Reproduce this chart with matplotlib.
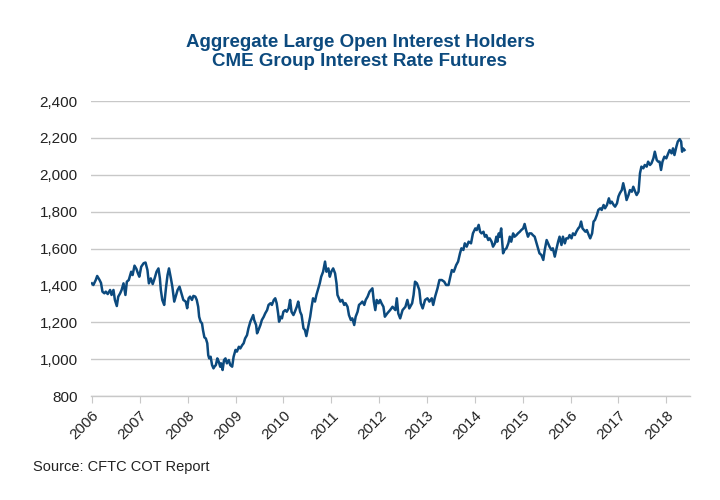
import matplotlib
matplotlib.use("Agg")
import matplotlib.pyplot as plt
from matplotlib.ticker import FuncFormatter

# ---- data (decimal year, contracts in thousands) ----
years = [
    2006.00, 2006.03, 2006.08, 2006.11, 2006.16, 2006.19, 2006.22, 2006.26, 2006.29, 2006.33,
    2006.38, 2006.41, 2006.45, 2006.48, 2006.52, 2006.55, 2006.59, 2006.62, 2006.66, 2006.70,
    2006.73, 2006.77, 2006.82, 2006.85, 2006.89, 2006.93, 2006.96, 2006.99, 2007.03, 2007.08,
    2007.12, 2007.16, 2007.19, 2007.23, 2007.27, 2007.31, 2007.35, 2007.39, 2007.42, 2007.44,
    2007.47, 2007.51, 2007.55, 2007.58, 2007.61, 2007.65, 2007.68, 2007.72, 2007.75, 2007.79,
    2007.83, 2007.87, 2007.91, 2007.96, 2007.99, 2008.02, 2008.05, 2008.09, 2008.12, 2008.16,
    2008.19, 2008.22, 2008.24, 2008.27, 2008.30, 2008.32, 2008.35, 2008.38, 2008.41, 2008.43,
    2008.45, 2008.48, 2008.51, 2008.54, 2008.56, 2008.59, 2008.62, 2008.65, 2008.68, 2008.70,
    2008.73, 2008.76, 2008.79, 2008.82, 2008.86, 2008.89, 2008.93, 2008.96, 2009.00, 2009.03,
    2009.07, 2009.10, 2009.14, 2009.17, 2009.20, 2009.24, 2009.27, 2009.31, 2009.34, 2009.37,
    2009.39, 2009.43, 2009.45, 2009.48, 2009.52, 2009.55, 2009.59, 2009.62, 2009.66, 2009.69,
    2009.73, 2009.76, 2009.80, 2009.83, 2009.86, 2009.89, 2009.91, 2009.94, 2009.97, 2010.00,
    2010.04, 2010.07, 2010.11, 2010.14, 2010.17, 2010.21, 2010.24, 2010.28, 2010.31, 2010.35,
    2010.38, 2010.42, 2010.45, 2010.48, 2010.52, 2010.56, 2010.59, 2010.62, 2010.66, 2010.69,
    2010.72, 2010.76, 2010.79, 2010.83, 2010.87, 2010.90, 2010.94, 2010.97, 2011.00, 2011.04,
    2011.08, 2011.11, 2011.13, 2011.16, 2011.19, 2011.23, 2011.27, 2011.30, 2011.34, 2011.37,
    2011.41, 2011.44, 2011.48, 2011.51, 2011.55, 2011.58, 2011.62, 2011.65, 2011.69, 2011.72,
    2011.76, 2011.80, 2011.83, 2011.86, 2011.89, 2011.92, 2011.95, 2011.99, 2012.02, 2012.05,
    2012.09, 2012.12, 2012.17, 2012.23, 2012.28, 2012.34, 2012.37, 2012.40, 2012.44, 2012.49,
    2012.55, 2012.59, 2012.63, 2012.69, 2012.72, 2012.75, 2012.79, 2012.84, 2012.87, 2012.91,
    2012.96, 2013.01, 2013.05, 2013.10, 2013.13, 2013.17, 2013.22, 2013.26, 2013.31, 2013.36,
    2013.40, 2013.45, 2013.48, 2013.52, 2013.56, 2013.61, 2013.65, 2013.69, 2013.72, 2013.76,
    2013.79, 2013.83, 2013.87, 2013.92, 2013.96, 2014.01, 2014.04, 2014.08, 2014.11, 2014.14,
    2014.18, 2014.21, 2014.24, 2014.28, 2014.31, 2014.35, 2014.38, 2014.42, 2014.45, 2014.47,
    2014.50, 2014.52, 2014.55, 2014.59, 2014.62, 2014.66, 2014.70, 2014.73, 2014.76, 2014.80,
    2014.83, 2014.87, 2014.90, 2014.94, 2014.97, 2015.01, 2015.04, 2015.07, 2015.11, 2015.14,
    2015.18, 2015.21, 2015.25, 2015.28, 2015.32, 2015.35, 2015.39, 2015.43, 2015.46, 2015.50,
    2015.53, 2015.56, 2015.60, 2015.63, 2015.67, 2015.70, 2015.74, 2015.77, 2015.81, 2015.84,
    2015.88, 2015.91, 2015.95, 2015.98, 2016.02, 2016.05, 2016.09, 2016.12, 2016.16, 2016.19,
    2016.22, 2016.25, 2016.28, 2016.31, 2016.34, 2016.38, 2016.41, 2016.45, 2016.48, 2016.51,
    2016.55, 2016.58, 2016.62, 2016.65, 2016.69, 2016.72, 2016.76, 2016.80, 2016.83, 2016.86,
    2016.90, 2016.93, 2016.97, 2017.00, 2017.03, 2017.07, 2017.10, 2017.14, 2017.17, 2017.21,
    2017.24, 2017.28, 2017.31, 2017.35, 2017.38, 2017.42, 2017.45, 2017.48, 2017.52, 2017.55,
    2017.59, 2017.62, 2017.66, 2017.69, 2017.73, 2017.76, 2017.80, 2017.83, 2017.86, 2017.89,
    2017.92, 2017.96, 2018.00, 2018.04, 2018.07, 2018.11, 2018.14, 2018.17, 2018.21, 2018.24,
    2018.28, 2018.31, 2018.33, 2018.35, 2018.38,
]
open_interest = [
    1411, 1402, 1429, 1451, 1429, 1413, 1366, 1357, 1366, 1353,
    1375, 1348, 1375, 1321, 1288, 1339, 1357, 1375, 1411, 1348,
    1420, 1429, 1474, 1456, 1507, 1489, 1466, 1447, 1501, 1520,
    1524, 1483, 1411, 1438, 1407, 1438, 1474, 1492, 1438, 1375,
    1321, 1294, 1393, 1456, 1492, 1438, 1393, 1312, 1339, 1375,
    1393, 1357, 1321, 1312, 1276, 1330, 1339, 1321, 1343, 1339,
    1321, 1284, 1230, 1203, 1194, 1158, 1118, 1112, 1086, 1022,
    1004, 1013, 968, 950, 959, 968, 1004, 986, 959, 977,
    941, 995, 1004, 977, 995, 968, 959, 1013, 1050, 1041,
    1067, 1058, 1076, 1086, 1112, 1130, 1167, 1203, 1221, 1239,
    1212, 1185, 1140, 1158, 1185, 1212, 1230, 1248, 1266, 1294,
    1303, 1294, 1321, 1330, 1303, 1248, 1203, 1230, 1221, 1257,
    1266, 1257, 1275, 1321, 1257, 1239, 1257, 1284, 1312, 1257,
    1239, 1167, 1158, 1125, 1176, 1230, 1284, 1330, 1312, 1348,
    1375, 1411, 1447, 1474, 1529, 1474, 1492, 1447, 1474, 1492,
    1465, 1411, 1348, 1330, 1312, 1321, 1294, 1303, 1284, 1239,
    1212, 1221, 1185, 1230, 1257, 1294, 1303, 1312, 1294, 1321,
    1339, 1366, 1375, 1384, 1312, 1266, 1321, 1303, 1321, 1303,
    1284, 1230, 1248, 1266, 1284, 1266, 1330, 1248, 1221, 1266,
    1284, 1321, 1275, 1303, 1348, 1420, 1411, 1375, 1303, 1275,
    1321, 1330, 1312, 1330, 1294, 1339, 1384, 1429, 1429, 1420,
    1402, 1402, 1438, 1483, 1474, 1510, 1529, 1574, 1601, 1592,
    1628, 1610, 1637, 1628, 1682, 1709, 1700, 1728, 1691, 1682,
    1691, 1664, 1673, 1646, 1655, 1637, 1610, 1628, 1664, 1637,
    1682, 1664, 1709, 1574, 1592, 1601, 1628, 1664, 1637, 1682,
    1664, 1673, 1682, 1691, 1700, 1709, 1733, 1700, 1664, 1682,
    1682, 1673, 1664, 1637, 1601, 1574, 1565, 1538, 1592, 1646,
    1628, 1610, 1592, 1601, 1556, 1592, 1637, 1664, 1619, 1664,
    1628, 1655, 1655, 1673, 1655, 1682, 1673, 1691, 1709, 1718,
    1746, 1709, 1700, 1691, 1700, 1673, 1655, 1682, 1746, 1755,
    1782, 1809, 1818, 1809, 1836, 1818, 1836, 1872, 1845, 1854,
    1836, 1827, 1845, 1882, 1900, 1917, 1954, 1908, 1863, 1890,
    1917, 1908, 1935, 1908, 1890, 1908, 2008, 2044, 2035, 2053,
    2044, 2071, 2053, 2062, 2089, 2125, 2080, 2071, 2071, 2026,
    2071, 2098, 2089, 2116, 2134, 2116, 2143, 2107, 2152, 2180,
    2193, 2180, 2125, 2143, 2134,
]

year_ticks = list(range(2006, 2019))
y_ticks = [800, 1000, 1200, 1400, 1600, 1800, 2000, 2200, 2400]

title_text = "Aggregate Large Open Interest Holders\nCME Group Interest Rate Futures"
source_text = "Source: CFTC COT Report"

navy = "#0c4a7e"
grid_grey = "#c8c8c8"
text_grey = "#222222"

plt.rcParams["font.family"] = ["Liberation Sans", "DejaVu Sans"]

fig = plt.figure(figsize=(7.2, 5.0), dpi=100)
ax = fig.add_axes([0.127, 0.208, 0.831, 0.590])

ax.plot(years, open_interest, color=navy, linewidth=1.8, solid_joinstyle="round")

ax.set_ylim(800, 2400)
ax.set_xlim(2005.99, 2018.49)
ax.set_yticks(y_ticks)
ax.yaxis.set_major_formatter(FuncFormatter(lambda v, p: f"{int(v):,}"))
ax.set_xticks(year_ticks)
ax.set_xticklabels([str(y) for y in year_ticks], rotation=45, ha="right",
                   rotation_mode="anchor", fontsize=11, color=text_grey)
for lbl in ax.get_yticklabels():
    lbl.set_fontsize(11)
    lbl.set_color(text_grey)

ax.grid(axis="y", color=grid_grey, linewidth=1.0)
ax.set_axisbelow(True)
for side in ["top", "right", "left"]:
    ax.spines[side].set_visible(False)
ax.spines["bottom"].set_color(grid_grey)
ax.spines["bottom"].set_linewidth(1.0)
ax.tick_params(axis="y", length=0, pad=10)
ax.tick_params(axis="x", length=5, color=grid_grey, pad=4)

# title: the original uses a condensed face, so squeeze it a little via size
fig.text(0.5, 0.896, title_text, ha="center", va="center", fontsize=13.5,
         fontweight="bold", color=navy, linespacing=1.2)
fig.text(0.046, 0.066, source_text, ha="left", va="center", fontsize=10.5,
         color=text_grey)

fig.savefig("out.png", dpi=100)
